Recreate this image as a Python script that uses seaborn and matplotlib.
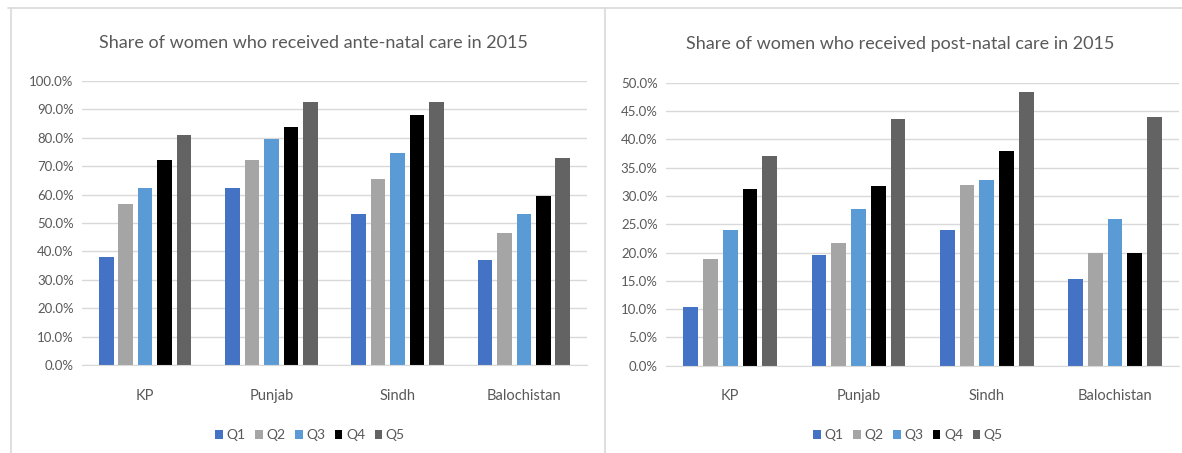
import matplotlib
matplotlib.use("Agg")
import matplotlib.pyplot as plt
import matplotlib.ticker as mtick
from matplotlib.lines import Line2D
import seaborn as sns
import pandas as pd

## data
regions = ["KP", "Punjab", "Sindh", "Balochistan"]
quintiles = ["Q1", "Q2", "Q3", "Q4", "Q5"]

# share of women who received ante-natal care (%), one list per quintile
ante_q1 = [38.1, 62.2, 53.1, 37.0]
ante_q2 = [56.7, 72.2, 65.4, 46.4]
ante_q3 = [62.2, 79.7, 74.8, 53.1]
ante_q4 = [72.2, 83.7, 87.9, 59.5]
ante_q5 = [81.0, 92.7, 92.7, 72.8]

# share of women who received post-natal care (%)
post_q1 = [10.3, 19.6, 23.9, 15.4]
post_q2 = [18.9, 21.6, 31.9, 19.9]
post_q3 = [23.9, 27.7, 32.9, 25.9]
post_q4 = [31.3, 31.8, 37.9, 20.0]
post_q5 = [37.1, 43.6, 48.3, 43.9]

colors = ["#4472C4", "#A5A5A5", "#5B9BD5", "#000000", "#636363"]
text_grey = "#595959"
grid_grey = "#D9D9D9"


def to_long(series):
    rows = []
    for q, vals in zip(quintiles, series):
        for r, v in zip(regions, vals):
            rows.append({"region": r, "quintile": q, "value": v})
    return pd.DataFrame(rows)


ante_df = to_long([ante_q1, ante_q2, ante_q3, ante_q4, ante_q5])
post_df = to_long([post_q1, post_q2, post_q3, post_q4, post_q5])

sns.set_style("white")
plt.rcParams["font.family"] = ["Lato", "DejaVu Sans"]

fig = plt.figure(figsize=(11.82, 4.53), dpi=100)

panels = [
    dict(df=ante_df, rect=[0.0694, 0.1943, 0.4272, 0.6269], ymax=100, step=10,
         title="Share of women who received ante-natal care in 2015",
         title_x=313 / 1182, leg_x=310 / 1182),
    dict(df=post_df, rect=[0.5635, 0.1927, 0.4340, 0.6247], ymax=50, step=5,
         title="Share of women who received post-natal care in 2015",
         title_x=900 / 1182, leg_x=908 / 1182),
]

for p in panels:
    ax = fig.add_axes(p["rect"])
    sns.barplot(data=p["df"], x="region", y="value", hue="quintile",
                order=regions, hue_order=quintiles, palette=colors,
                width=0.77, gap=0.25, saturation=1, ax=ax, legend=True,
                linewidth=0)
    handles, labels = ax.get_legend_handles_labels()
    ax.get_legend().remove()

    ax.set_ylim(0, p["ymax"])
    ax.set_yticks(range(0, p["ymax"] + 1, p["step"]))
    ax.yaxis.set_major_formatter(mtick.FuncFormatter(lambda v, _: f"{v:.1f}%"))
    ax.set_xlim(-0.5, 3.5)
    ax.grid(axis="y", color=grid_grey, linewidth=1)
    ax.set_axisbelow(True)
    for s in ["top", "right", "left"]:
        ax.spines[s].set_visible(False)
    ax.spines["bottom"].set_color(grid_grey)
    ax.tick_params(axis="y", length=0, pad=6, labelsize=9.5, labelcolor=text_grey)
    ax.tick_params(axis="x", length=0, pad=17, labelsize=10.5, labelcolor=text_grey)
    ax.set_xlabel("")
    ax.set_ylabel("")

    fig.text(p["title_x"], 1 - 43.5 / 453, p["title"], ha="center", va="center",
             fontsize=13, color=text_grey)

    fig.legend(handles, labels, loc="center", ncol=5, frameon=False,
               bbox_to_anchor=(p["leg_x"], 1 - 435 / 453),
               handlelength=0.55, handleheight=0.6, handletextpad=0.25,
               columnspacing=0.7, fontsize=10, labelcolor=text_grey)

## panel borders
border = dict(color=grid_grey, linewidth=1.2, transform=fig.transFigure)
fig.add_artist(Line2D([8 / 1182, 1.0], [1 - 8 / 453] * 2, **border))
fig.add_artist(Line2D([11 / 1182] * 2, [0, 1 - 8 / 453], **border))
fig.add_artist(Line2D([605 / 1182] * 2, [0, 1 - 8 / 453], **border))

fig.savefig("out.png", dpi=100)
